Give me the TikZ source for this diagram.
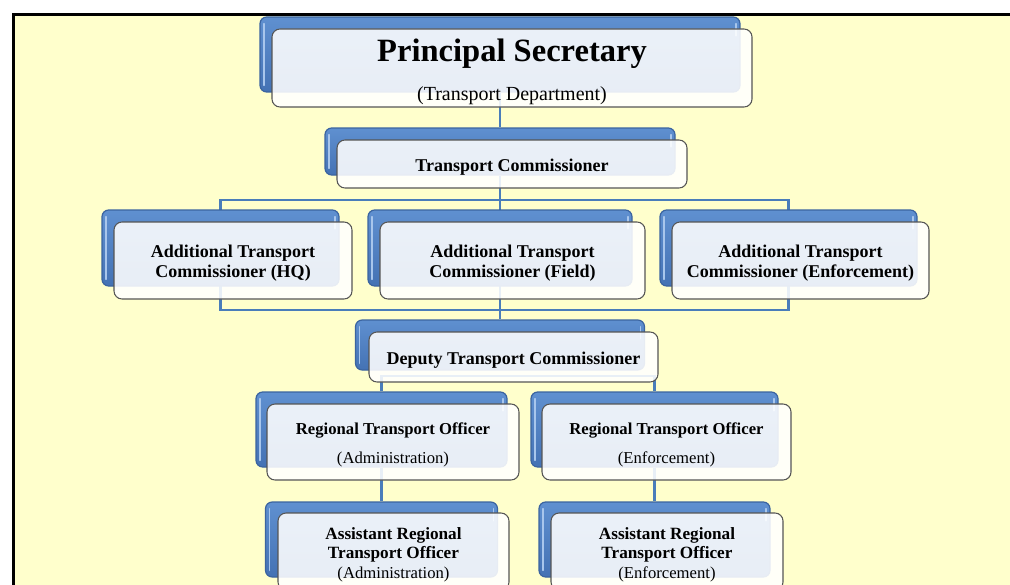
\documentclass[tikz,border=0pt]{standalone}
\usepackage{fontspec}
\setmainfont{Liberation Serif}
\usetikzlibrary{backgrounds}
\definecolor{paper}{HTML}{FFFFCC}
\definecolor{linkblue}{HTML}{4A7DBA}
\definecolor{backtop}{HTML}{5F90D0}
\definecolor{backbot}{HTML}{4472B4}
\definecolor{backedge}{HTML}{3B64A0}
\definecolor{backhi}{HTML}{A8C6EC}
\definecolor{frontedge}{HTML}{555555}
\pgfdeclarelayer{links}
\pgfsetlayers{background,links,main}
\begin{document}
\begin{tikzpicture}[x=0.75pt,y=-0.75pt,
  boxsize/.style 2 args={minimum width=#1*0.75pt, minimum height=#2*0.75pt},
  conn/.style={draw=linkblue, line width=1.7pt},
  backbox/.style={rectangle, rounded corners=5pt, draw=backedge, line width=0.9pt,
    top color=backtop, bottom color=backbot, inner sep=0pt,
    path picture={
      \draw[backhi, line width=1.2pt, line cap=round]
        ([xshift=3pt,yshift=-5pt]path picture bounding box.north west) --
        ([xshift=3pt,yshift=5pt]path picture bounding box.south west);
      \draw[backhi, line width=1.2pt, line cap=round]
        ([xshift=-3pt,yshift=-5pt]path picture bounding box.north east) --
        ([xshift=-3pt,yshift=-14pt]path picture bounding box.north east);}},
  frontbox/.style={rectangle, rounded corners=6pt, draw=frontedge, line width=0.8pt,
    fill=white, fill opacity=0.88, inner sep=0pt},
  boxtext/.style={align=center, inner sep=0pt},
  midfont/.style={boxtext, font=\fontsize{13.5}{15}\selectfont\bfseries},
  rtofont/.style={boxtext, font=\fontsize{12.5}{21.75}\selectfont},
  artofont/.style={boxtext, font=\fontsize{12.9}{14.6}\selectfont}]

\useasboundingbox (0,0) rectangle (1010,585);

% page frame
\begin{pgfonlayer}{background}
  \fill[white] (0,0) rectangle (1010,585);
  \fill[paper] (13.5,14.5) rectangle (1010,585);
  \draw[line width=2.3pt] (13.5,600) -- (13.5,14.5) -- (1020,14.5);
\end{pgfonlayer}

% Principal Secretary
\node[backbox, boxsize={480}{75}] (psb) at (500,54.5) {};
\node[frontbox, boxsize={480}{78}] (ps) at (512,68) {};
\node[boxtext, font=\fontsize{15}{29}\selectfont] (pstxt) at ([yshift=-2.8pt]ps.center)
  {{\fontsize{24.4}{29}\selectfont\bfseries Principal Secretary}\\(Transport Department)};

% Transport Commissioner
\node[backbox, boxsize={350}{47}] (tcb) at (500,151.5) {};
\node[frontbox, boxsize={350}{48}] (tc) at (512,164) {};
\node[midfont] (tctxt) at ([yshift=-2.3pt]tc.center) {Transport Commissioner};

% Additional Transport Commissioners
\node[backbox, boxsize={237}{76}] (hqb) at (220.5,248) {};
\node[frontbox, boxsize={238}{77}] (hq) at (233,260.5) {};
\node[midfont] (hqtxt) at ([yshift=-2.3pt]hq.center)
  {Additional Transport\\Commissioner (HQ)};
\node[backbox, boxsize={264}{76}] (fieldb) at (500,248) {};
\node[frontbox, boxsize={265}{77}] (field) at (512.5,260.5) {};
\node[midfont] (fieldtxt) at ([yshift=-2.3pt]field.center)
  {Additional Transport\\Commissioner (Field)};
\node[backbox, boxsize={257}{76}] (enfb) at (788.5,248) {};
\node[frontbox, boxsize={257}{77}] (enf) at (800.5,260.5) {};
\node[midfont] (enftxt) at ([yshift=-2.3pt]enf.center)
  {Additional Transport\\Commissioner (Enforcement)};

% Deputy Transport Commissioner
\node[backbox, boxsize={289}{50}] (dtcb) at (500,345) {};
\node[frontbox, boxsize={289}{50}] (dtc) at (513.5,357) {};
\node[midfont] (dtctxt) at ([yshift=-2.3pt]dtc.center) {Deputy Transport Commissioner};

% Regional Transport Officers
\node[backbox, boxsize={251}{75}] (rtoAb) at (381.5,429.5) {};
\node[frontbox, boxsize={252}{76}] (rtoA) at (393,442) {};
\node[rtofont] (rtoAtxt) at ([yshift=-2.3pt]rtoA.center)
  {{\bfseries Regional Transport Officer}\\(Administration)};
\node[backbox, boxsize={247}{75}] (rtoEb) at (654.5,429.5) {};
\node[frontbox, boxsize={249}{76}] (rtoE) at (666.5,442) {};
\node[rtofont] (rtoEtxt) at ([yshift=-2.3pt]rtoE.center)
  {{\bfseries Regional Transport Officer}\\(Enforcement)};

% Assistant Regional Transport Officers
\node[backbox, boxsize={232}{75}] (artoAb) at (381.5,539.5) {};
\node[frontbox, boxsize={231}{77}] (artoA) at (393.5,551.5) {};
\node[artofont] (artoAtxt) at ([yshift=-2.3pt]artoA.center)
  {{\bfseries Assistant Regional}\\{\bfseries Transport Officer}\\{\fontsize{12.5}{14.6}\selectfont(Administration)}};
\node[backbox, boxsize={231}{75}] (artoEb) at (654.5,539.5) {};
\node[frontbox, boxsize={232}{77}] (artoE) at (667,551.5) {};
\node[artofont] (artoEtxt) at ([yshift=-2.3pt]artoE.center)
  {{\bfseries Assistant Regional}\\{\bfseries Transport Officer}\\{\fontsize{12.5}{14.6}\selectfont(Enforcement)}};

% connectors, behind the boxes
\begin{pgfonlayer}{links}
  \coordinate (busA) at (500,200);
  \coordinate (busB) at (500,310);
  \coordinate (busC) at (500,376);
  \draw[conn] (psb.south) -- (tcb.north);
  \draw[conn] (tcb.south) -- (tcb.south |- dtcb.north);
  \draw[conn] (hqb.north |- busA) rectangle (enfb.north |- busB);
  \draw[conn] (rtoAb.north) -- (rtoAb.north |- busC) -- (rtoEb.north |- busC) -- (rtoEb.north);
  \draw[conn] (rtoAb.south) -- (artoAb.north);
  \draw[conn] (rtoEb.south) -- (artoEb.north);
\end{pgfonlayer}
\end{tikzpicture}
\end{document}
